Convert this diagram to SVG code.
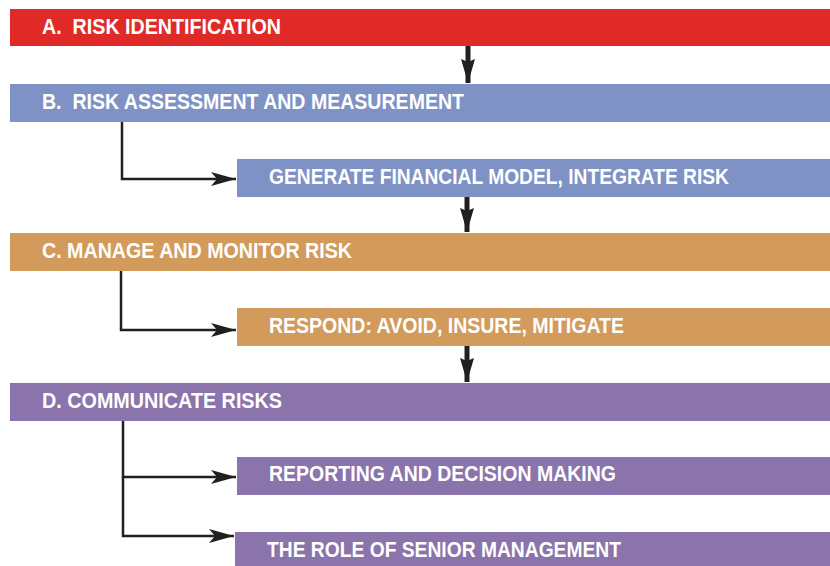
<svg xmlns="http://www.w3.org/2000/svg" width="830" height="566" viewBox="0 0 830 566">
<defs>
<style>
.t{font-family:"Liberation Sans",Arial,sans-serif;font-weight:bold;font-size:22.5px;fill:#fff;white-space:pre}
.red{fill:#DF2A28}.blue{fill:#7F92C5}.tan{fill:#D29B5C}.pur{fill:#8A74AB}
.el{fill:none;stroke:#231F20;stroke-width:2.5}
.dn{fill:none;stroke:#231F20;stroke-width:5}
</style>
<marker id="ah" viewBox="0 0 25 14" refX="25" refY="7" markerWidth="25" markerHeight="14" markerUnits="userSpaceOnUse" orient="auto">
<path d="M0,0 L25,7 L0,14 L6,7 Z" fill="#231F20"/>
</marker>
<marker id="dh" viewBox="0 0 24 14" refX="24" refY="7" markerWidth="24" markerHeight="14" markerUnits="userSpaceOnUse" orient="auto">
<path d="M0,0 L24,7 L0,14 L3,7 Z" fill="#231F20"/>
</marker>
</defs>
<g id="nodeA"><rect class="red" x="10" y="9" width="820" height="37"/><text class="t" x="42" y="34" textLength="239" lengthAdjust="spacingAndGlyphs" xml:space="preserve">A.  RISK IDENTIFICATION</text></g>
<g id="nodeB"><rect class="blue" x="10" y="84" width="820" height="38"/><text class="t" x="42" y="109" textLength="422" lengthAdjust="spacingAndGlyphs" xml:space="preserve">B.  RISK ASSESSMENT AND MEASUREMENT</text></g>
<g id="nodeB1"><rect class="blue" x="237" y="159" width="593" height="38"/><text class="t" x="269" y="184" textLength="460" lengthAdjust="spacingAndGlyphs">GENERATE FINANCIAL MODEL, INTEGRATE RISK</text></g>
<g id="nodeC"><rect class="tan" x="10" y="233" width="820" height="38"/><text class="t" x="42" y="258" textLength="310" lengthAdjust="spacingAndGlyphs">C. MANAGE AND MONITOR RISK</text></g>
<g id="nodeC1"><rect class="tan" x="237" y="308" width="593" height="38"/><text class="t" x="269" y="333" textLength="355" lengthAdjust="spacingAndGlyphs">RESPOND: AVOID, INSURE, MITIGATE</text></g>
<g id="nodeD"><rect class="pur" x="10" y="383" width="820" height="38"/><text class="t" x="42" y="408" textLength="240" lengthAdjust="spacingAndGlyphs">D. COMMUNICATE RISKS</text></g>
<g id="nodeD1"><rect class="pur" x="237" y="457" width="593" height="38"/><text class="t" x="269" y="481" textLength="347" lengthAdjust="spacingAndGlyphs">REPORTING AND DECISION MAKING</text></g>
<g id="nodeD2"><rect class="pur" x="235" y="532" width="595" height="38"/><text class="t" x="267" y="557" textLength="354" lengthAdjust="spacingAndGlyphs">THE ROLE OF SENIOR MANAGEMENT</text></g>
<g id="connectors">
<path class="dn" d="M468,46 V83" marker-end="url(#dh)"/>
<path class="dn" d="M467,197 V232" marker-end="url(#dh)"/>
<path class="dn" d="M467,346 V382" marker-end="url(#dh)"/>
<path class="el" d="M122,122 V179 H236" marker-end="url(#ah)"/>
<path class="el" d="M121,271 V330 H236" marker-end="url(#ah)"/>
<path class="el" d="M123,421 V477 H236" marker-end="url(#ah)"/>
<path class="el" d="M123,477 V536 H234" marker-end="url(#ah)"/>
</g>
</svg>
